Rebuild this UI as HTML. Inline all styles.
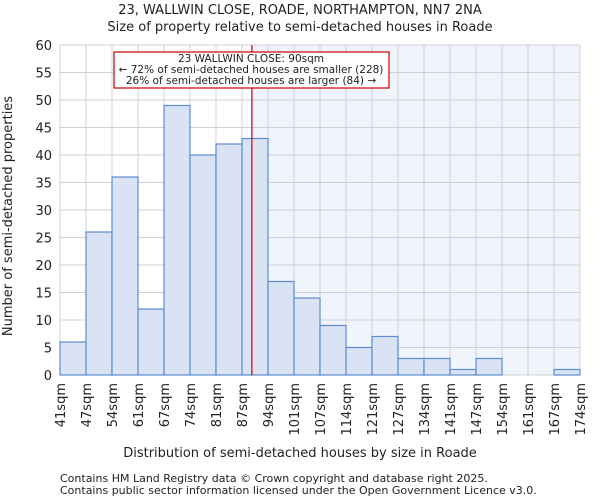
<!DOCTYPE html>
<html><head><meta charset="utf-8"><style>
body{margin:0;background:#fff;font-family:"DejaVu Sans","Liberation Sans",sans-serif}
svg text{font-family:"DejaVu Sans","Liberation Sans",sans-serif;fill:#222}
</style></head><body>
<svg id="chart" width="600" height="500" viewBox="0 0 600 500" xmlns="http://www.w3.org/2000/svg">
<text x="300" y="14" font-size="13" text-anchor="middle">23, WALLWIN CLOSE, ROADE, NORTHAMPTON, NN7 2NA</text>
<text x="300" y="31" font-size="13" text-anchor="middle">Size of property relative to semi-detached houses in Roade</text>
<g id="grid"></g><g id="bars"></g><g id="axes"></g>
<text x="300" y="457" font-size="13" text-anchor="middle">Distribution of semi-detached houses by size in Roade</text>
<text transform="translate(12,216) rotate(-90)" font-size="13" text-anchor="middle">Number of semi-detached properties</text>
<text x="60" y="482" font-size="11" fill="#444">Contains HM Land Registry data © Crown copyright and database right 2025.</text>
<text x="60" y="494" font-size="11" fill="#444">Contains public sector information licensed under the Open Government Licence v3.0.</text>
</svg>
<script>
const categories=["41sqm","47sqm","54sqm","61sqm","67sqm","74sqm","81sqm","87sqm","94sqm","101sqm","107sqm","114sqm","121sqm","127sqm","134sqm","141sqm","147sqm","154sqm","161sqm","167sqm","174sqm"];
const counts=[6,26,36,12,49,40,42,43,17,14,9,5,7,3,3,1,3,0,0,1];
const yTicks=[0,5,10,15,20,25,30,35,40,45,50,55,60];
const markerBin=7.38;
const annotation=["23 WALLWIN CLOSE: 90sqm","← 72% of semi-detached houses are smaller (228)","26% of semi-detached houses are larger (84) →"];
const NS="http://www.w3.org/2000/svg";
const L=60,R=580,T=45,B=375,yMax=60;
const bw=(R-L)/counts.length;
const x=i=>L+i*bw, y=v=>B-(v/yMax)*(B-T);
function mk(tag,attrs,parent){const e=document.createElementNS(NS,tag);for(const k in attrs)e.setAttribute(k,attrs[k]);parent.appendChild(e);return e;}
const grid=document.getElementById('grid'),bars=document.getElementById('bars'),axes=document.getElementById('axes');
const mx=x(markerBin);
const sh=mk('rect',{x:mx,y:T,width:R-mx,height:B-T,fill:'#f0f4fc'},grid);


yTicks.forEach(v=>{
 const g=mk('line',{x1:L,x2:R,y1:y(v),y2:y(v),stroke:'#d0d0d0'},grid);
 
 
 const t=mk('text',{x:L-8,y:y(v)+5,'font-size':13,'text-anchor':'end'},axes);
 t.textContent=v;
 
 
});
categories.forEach((c,i)=>{
 const g=mk('line',{x1:x(i),x2:x(i),y1:T,y2:B,stroke:'#d0d0d0'},grid);
 
 
 const t=mk('text',{transform:`translate(${x(i)+5},${B+8}) rotate(-90)`,'font-size':13,'text-anchor':'end'},axes);
 t.textContent=c;
 
 
});
counts.forEach((v,i)=>{
 const r=mk('rect',{x:x(i),y:y(v),width:bw,height:B-y(v),fill:'#dae3f3',stroke:'#5b8bd0','stroke-width':1.2},bars);
 
 
});
const ml=mk('line',{x1:mx,x2:mx,y1:T,y2:B,stroke:'#cc0000','stroke-width':1.2},bars);


const box=mk('rect',{x:114,y:52,width:275,height:36,fill:'#fff',stroke:'#cc0000','stroke-width':1.2},bars);


annotation.forEach((s,i)=>{
 const t=mk('text',{x:251,y:62+i*11,'font-size':10.5,'text-anchor':'middle'},bars);
 t.textContent=s;
 
 
});
</script>
</body></html>
